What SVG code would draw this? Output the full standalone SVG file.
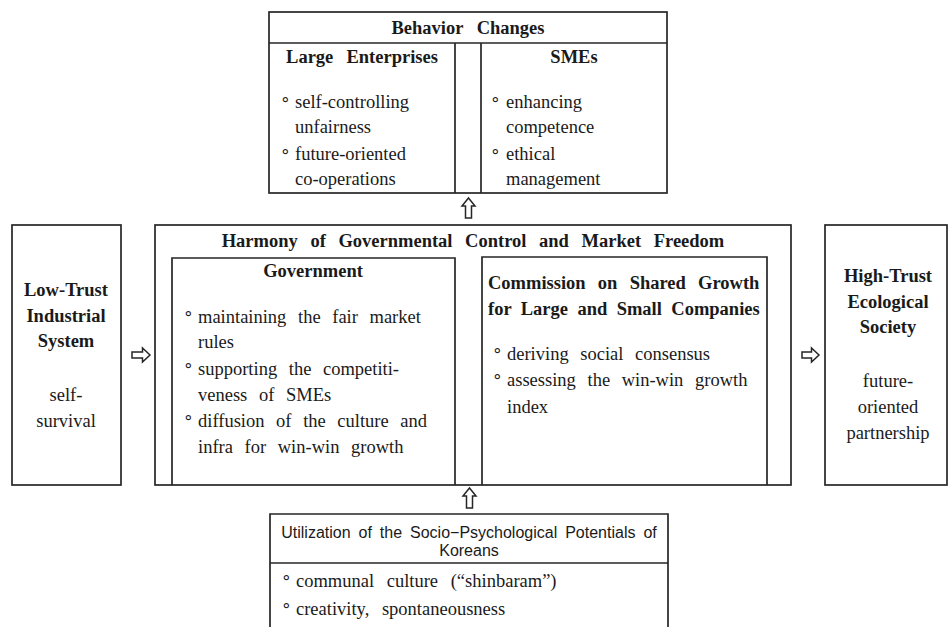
<svg xmlns="http://www.w3.org/2000/svg" width="948" height="627" viewBox="0 0 948 627">
<defs>
<style>
.bx{fill:none;stroke:#262626;stroke-width:1.7}
.ar{fill:#fff;stroke:#262626;stroke-width:1.5;stroke-linejoin:miter}
text{font-family:"Liberation Serif","Times New Roman",serif;font-size:18.5px;fill:#1a1a1a}
.b{font-weight:bold;word-spacing:7.5px}
.r{word-spacing:7px}
.c{text-anchor:middle}
.bu{font-family:"DejaVu Sans",sans-serif;font-size:17px}
.s{font-family:"Liberation Sans",Arial,sans-serif;font-size:16px;word-spacing:3.5px;text-anchor:middle}
</style>
</defs>
<rect width="948" height="627" fill="#fff"/>

<g id="behavior-changes">
<rect class="bx" x="269" y="12" width="398" height="181"/>
<line class="bx" x1="269" y1="43" x2="667" y2="43"/>
<line class="bx" x1="455" y1="43" x2="455" y2="193"/>
<line class="bx" x1="481" y1="43" x2="481" y2="193"/>
<text class="b c" x="468" y="34" style="word-spacing:9px">Behavior Changes</text>
<g id="large-enterprises">
<text class="b c" x="362" y="63" style="word-spacing:8.5px">Large Enterprises</text>
<text class="bu" x="280" y="105">∘</text>
<text class="r" x="295" y="108">self-controlling</text>
<text class="r" x="295" y="133">unfairness</text>
<text class="bu" x="280" y="157">∘</text>
<text class="r" x="295" y="160">future-oriented</text>
<text class="r" x="295" y="185">co-operations</text>
</g>
<g id="smes">
<text class="b c" x="574" y="63">SMEs</text>
<text class="bu" x="490" y="105">∘</text>
<text class="r" x="506" y="108">enhancing</text>
<text class="r" x="506" y="133">competence</text>
<text class="bu" x="490" y="157">∘</text>
<text class="r" x="506" y="160">ethical</text>
<text class="r" x="506" y="185">management</text>
</g>
</g>

<g id="low-trust">
<rect class="bx" x="12" y="225" width="109" height="260"/>
<text class="b c" x="66" y="296">Low-Trust</text>
<text class="b c" x="66" y="322">Industrial</text>
<text class="b c" x="66" y="347">System</text>
<text class="r c" x="66" y="401">self-</text>
<text class="r c" x="66" y="427">survival</text>
</g>

<g id="harmony">
<rect class="bx" x="155" y="225" width="636" height="260"/>
<text class="b c" x="473" y="247" style="word-spacing:8px">Harmony of Governmental Control and Market Freedom</text>
<g id="government">
<path class="bx" d="M172 485V258H455V485"/>
<text class="b c" x="313" y="277">Government</text>
<text class="bu" x="183" y="319">∘</text>
<text class="r" x="198" y="323">maintaining the fair market</text>
<text class="r" x="198" y="348">rules</text>
<text class="bu" x="183" y="371">∘</text>
<text class="r" x="198" y="375">supporting the competiti-</text>
<text class="r" x="198" y="401">veness of SMEs</text>
<text class="bu" x="183" y="423">∘</text>
<text class="r" x="198" y="427">diffusion of the culture and</text>
<text class="r" x="198" y="453">infra for win-win growth</text>
</g>
<g id="commission">
<path class="bx" d="M482 485V257H767V485"/>
<text class="b" x="488" y="289" style="word-spacing:7.6px">Commission on Shared Growth</text>
<text class="b" x="488" y="315" style="word-spacing:4.8px">for Large and Small Companies</text>
<text class="bu" x="492" y="356">∘</text>
<text class="r" x="507" y="360">deriving social consensus</text>
<text class="bu" x="492" y="382">∘</text>
<text class="r" x="507" y="386">assessing the win-win growth</text>
<text class="r" x="507" y="413">index</text>
</g>
</g>

<g id="high-trust">
<rect class="bx" x="825" y="225" width="122" height="260"/>
<text class="b c" x="888" y="282">High-Trust</text>
<text class="b c" x="888" y="308">Ecological</text>
<text class="b c" x="888" y="333">Society</text>
<text class="r c" x="888" y="387">future-</text>
<text class="r c" x="888" y="413">oriented</text>
<text class="r c" x="888" y="439">partnership</text>
</g>

<g id="potentials">
<path class="bx" d="M270 640V514H668V640"/>
<line class="bx" x1="270" y1="563" x2="668" y2="563"/>
<text class="s" x="469" y="538">Utilization of the Socio−Psychological Potentials of</text>
<text class="s" x="469" y="556">Koreans</text>
<text class="bu" x="281" y="583">∘</text>
<text class="r" x="296" y="587" style="word-spacing:8px">communal culture (“shinbaram”)</text>
<text class="bu" x="281" y="611">∘</text>
<text class="r" x="296" y="615" style="word-spacing:8px">creativity, spontaneousness</text>
</g>

<g id="connectors">
<path class="ar" d="M468.5 198L475 206H471.5V218H465.5V206H462Z"/>
<path class="ar" d="M469.5 488L476 496H472.5V508H466.5V496H463Z"/>
<path class="ar" d="M150 355L142.5 348V352H132V358H142.5V362Z"/>
<path class="ar" d="M819 355L811.5 348V352H802V358H811.5V362Z"/>
</g>
</svg>
